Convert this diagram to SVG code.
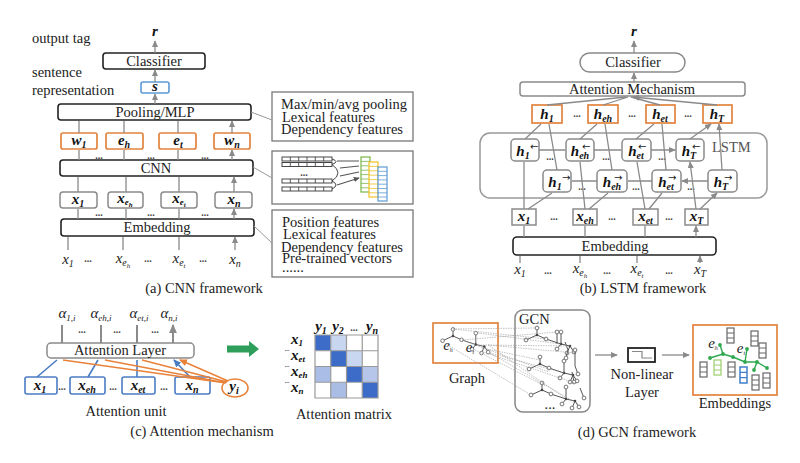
<svg xmlns="http://www.w3.org/2000/svg" width="800" height="463" viewBox="0 0 800 463">
<defs>
<style>
.t{font-family:"Liberation Serif",serif;font-size:14.5px;fill:#222}
.c{text-anchor:middle}
.v{font-family:"Liberation Serif",serif;font-style:italic;font-weight:bold;font-size:15px;text-anchor:middle;fill:#111}
.m{font-family:"Liberation Serif",serif;font-style:italic;font-size:15px;text-anchor:middle;fill:#222}
.d{font-family:"Liberation Serif",serif;font-size:10px;font-weight:bold;text-anchor:middle;fill:#444}
.box{fill:#fff;stroke:#222;stroke-width:1.6}
.gbox{fill:#fff;stroke:#8a8a8a;stroke-width:1.5}
.obox{fill:#fff;stroke:#e2843f;stroke-width:1.7}
.bbox{fill:#fff;stroke:#4a7cc4;stroke-width:1.6}
.fbox{fill:#fff;stroke:#777;stroke-width:1.3}
.arr{stroke:#8a8a8a;stroke-width:1.3;fill:none;marker-end:url(#ah)}
.arrw{stroke:#8a8a8a;stroke-width:2;fill:none;marker-end:url(#ahw)}
.barr{stroke:#4a7cc4;stroke-width:1.6;fill:none;marker-end:url(#ahb)}
.oarr{stroke:#e8823a;stroke-width:1.4;fill:none;marker-end:url(#aho)}
.lnk{stroke:#999;stroke-width:1;fill:none}
.cell{fill:#fff;stroke:#333;stroke-width:0.9}
.gn{fill:#fff;stroke:#666;stroke-width:0.9}
.ge{stroke:#555;stroke-width:1;fill:none}
.dl{stroke:#999;stroke-width:0.6;stroke-dasharray:1.5 1;fill:none}
.stk{fill:#fff;stroke:#666;stroke-width:1.2}
</style>
<marker id="ah" viewBox="0 0 8 8" refX="7" refY="4" markerWidth="7" markerHeight="7" markerUnits="userSpaceOnUse" orient="auto"><path d="M0,0.5 L8,4 L0,7.5 z" fill="#8a8a8a"/></marker>
<marker id="ahw" viewBox="0 0 8 8" refX="7" refY="4" markerWidth="9" markerHeight="9" markerUnits="userSpaceOnUse" orient="auto"><path d="M0,0.5 L8,4 L0,7.5 z" fill="#8a8a8a"/></marker>
<marker id="ahb" viewBox="0 0 8 8" refX="7" refY="4" markerWidth="8" markerHeight="8" markerUnits="userSpaceOnUse" orient="auto"><path d="M0,0.5 L8,4 L0,7.5 z" fill="#4a7cc4"/></marker>
<marker id="aho" viewBox="0 0 8 8" refX="7" refY="4" markerWidth="8" markerHeight="8" markerUnits="userSpaceOnUse" orient="auto"><path d="M0,0.5 L8,4 L0,7.5 z" fill="#e8823a"/></marker>
<marker id="ahk" viewBox="0 0 8 8" refX="7" refY="4" markerWidth="6" markerHeight="6" markerUnits="userSpaceOnUse" orient="auto"><path d="M0,0.5 L8,4 L0,7.5 z" fill="#555"/></marker>
<g id="row6"><rect class="cell" x="0" y="0" width="50" height="4"/><path d="M8.3,0V4M16.7,0V4M25,0V4M33.3,0V4M41.7,0V4" stroke="#333" stroke-width="0.8"/></g>
<g id="stack"><rect class="stk" x="0" y="0" width="7" height="15"/><path d="M0,5H7M0,10H7" stroke="#666" stroke-width="1"/></g>
<g id="tree">
<path class="ge" d="M-11,5 L0,0 L9,4 L24,9 M0,0 V-7 M24,9 V-3 M24,9 L33,11 L37,17 M33,11 L30,18 M24,9 L20,14"/>
<circle class="gn" cx="-11" cy="5" r="1.9"/><circle class="gn" cx="0" cy="-7" r="1.9"/><circle class="gn" cx="9" cy="4" r="1.9"/>
<circle class="gn" cx="24" cy="-3" r="1.9"/><circle class="gn" cx="37" cy="17" r="1.9"/><circle class="gn" cx="30" cy="18" r="1.9"/><circle class="gn" cx="20" cy="14" r="1.9"/>
<circle cx="0" cy="0" r="1.3" fill="#444"/><circle cx="24" cy="9" r="1.3" fill="#444"/><circle cx="33" cy="11" r="1.3" fill="#444"/>
</g>
</defs>
<rect width="800" height="463" fill="#fff"/>

<!-- ================= (a) CNN framework ================= -->
<g id="cnn-labels">
<text class="v" x="155" y="36">r</text>
<text class="t" x="32" y="43">output tag</text>
<text class="t" x="32" y="77">sentence</text>
<text class="t" x="32" y="95">representation</text>
<text class="t c" x="204" y="293">(a) CNN framework</text>
</g>
<g id="a-classifier"><rect class="box" x="103" y="53" width="102" height="16" rx="3"/><text class="t c" x="154" y="66">Classifier</text></g>
<g id="a-s"><rect fill="#fff" stroke="#5b9bd5" stroke-width="1.6" x="141" y="82" width="28" height="11" rx="2"/><text class="v" x="155" y="91" font-size="13">s</text></g>
<g id="a-pool"><rect class="box" x="58" y="104" width="193" height="16" rx="3"/><text class="t c" x="155" y="117">Pooling/MLP</text></g>
<g id="a-w1"><rect class="obox" x="61" y="133" width="36" height="16" rx="2"/><text class="v" x="79" y="145">w<tspan font-size="10" dy="3">1</tspan></text></g>
<g id="a-eh"><rect class="obox" x="106" y="133" width="37" height="16" rx="2"/><text class="v" x="124" y="145">e<tspan font-size="10" dy="3">h</tspan></text></g>
<g id="a-et"><rect class="obox" x="159" y="133" width="37" height="16" rx="2"/><text class="v" x="178" y="145">e<tspan font-size="10" dy="3">t</tspan></text></g>
<g id="a-wn"><rect class="obox" x="214" y="133" width="36" height="16" rx="2"/><text class="v" x="232" y="145">w<tspan font-size="10" dy="3">n</tspan></text></g>
<g id="a-cnn"><rect class="box" x="60" y="160" width="193" height="16" rx="3"/><text class="t c" x="156" y="173">CNN</text></g>
<g id="a-x1"><rect class="gbox" x="60" y="192" width="37" height="16" rx="3"/><text class="v" x="78" y="204">x<tspan font-size="10" dy="3">1</tspan></text></g>
<g id="a-xeh"><rect class="gbox" x="108" y="192" width="35" height="16" rx="3"/><text class="v" x="125" y="203">x<tspan font-size="9" dy="2">e</tspan><tspan font-size="7" dy="2">h</tspan></text></g>
<g id="a-xet"><rect class="gbox" x="161" y="192" width="36" height="16" rx="3"/><text class="v" x="179" y="203">x<tspan font-size="9" dy="2">e</tspan><tspan font-size="7" dy="2">t</tspan></text></g>
<g id="a-xn"><rect class="gbox" x="215" y="192" width="37" height="16" rx="3"/><text class="v" x="234" y="204">x<tspan font-size="10" dy="3">n</tspan></text></g>
<g id="a-emb"><rect class="box" x="61" y="219" width="193" height="17" rx="3"/><text class="t c" x="157" y="232">Embedding</text></g>
<g id="a-inputs">
<text class="m" x="68" y="264">x<tspan font-size="10" dy="3">1</tspan></text>
<text class="m" x="123" y="263">x<tspan font-size="10" dy="3">e</tspan><tspan font-size="7" dy="2">h</tspan></text>
<text class="m" x="179" y="263">x<tspan font-size="10" dy="3">e</tspan><tspan font-size="7" dy="2">t</tspan></text>
<text class="m" x="235" y="264">x<tspan font-size="10" dy="3">n</tspan></text>
<text class="d" x="88" y="262">...</text><text class="d" x="148" y="262">...</text><text class="d" x="203" y="262">...</text>
<text class="d" x="99" y="159">...</text><text class="d" x="151" y="159">...</text><text class="d" x="205" y="159">...</text>
<text class="d" x="99" y="216">...</text><text class="d" x="151" y="216">...</text><text class="d" x="205" y="216">...</text>
</g>
<g id="a-feat1"><rect class="fbox" x="272" y="92" width="141" height="49"/>
<text class="t" x="281" y="109">Max/min/avg pooling</text><text class="t" x="282" y="121.5">Lexical features</text><text class="t" x="281" y="134">Dependency features</text></g>
<g id="a-feat2"><rect class="fbox" x="272" y="151" width="141" height="53"/>
<use href="#row6" x="282" y="157"/><use href="#row6" x="282" y="162.5"/><use href="#row6" x="282" y="179"/><use href="#row6" x="282" y="187"/>
<text class="d" x="304" y="176" font-size="9">...</text>
<path d="M332,159 Q340,161.5 332,164.5 M332,164.5 Q344,173 332,181 M332,181 Q340,185 332,189" stroke="#333" stroke-width="0.9" fill="none"/>
<path d="M337,161 L359,161 M340,168 L359,166 M340,176 L359,172 M337,185 L359,178" stroke="#555" stroke-width="1.2" fill="none" marker-end="url(#ahk)"/>
<rect x="361" y="157" width="9" height="35" fill="#fff" stroke="#7ab648" stroke-width="1.2"/>
<path d="M361,161.4H370M361,165.8H370M361,170.2H370M361,174.6H370M361,179H370M361,183.4H370M361,187.8H370" stroke="#7ab648" stroke-width="0.8"/>
<rect x="369" y="162" width="9" height="35" fill="#fff" stroke="#f0c020" stroke-width="1.2"/>
<path d="M369,166.4H378M369,170.8H378M369,175.2H378M369,179.6H378M369,184H378M369,188.4H378M369,192.8H378" stroke="#f0c020" stroke-width="0.8"/>
<rect x="378" y="167" width="9" height="34" fill="#fff" stroke="#5b9bd5" stroke-width="1.2"/>
<path d="M378,171.3H387M378,175.6H387M378,179.9H387M378,184.2H387M378,188.5H387M378,192.8H387M378,197H387" stroke="#5b9bd5" stroke-width="0.8"/>
</g>
<g id="a-feat3"><rect class="fbox" x="272" y="210" width="141" height="67"/>
<text class="t" x="282" y="227">Position features</text><text class="t" x="283" y="239">Lexical features</text><text class="t" x="281" y="251.5">Dependency features</text><text class="t" x="282" y="263">Pre-trained vectors</text><text class="t" x="282" y="272" font-size="10">......</text></g>

<!-- ================= (b) LSTM framework ================= -->
<g id="b-labels">
<text class="v" x="634" y="36">r</text>
<text class="t c" x="643" y="293">(b) LSTM framework</text>
</g>
<g id="b-lstm"><rect x="480" y="133" width="287" height="65" rx="10" fill="none" stroke="#999" stroke-width="1.5"/><text class="t" x="712" y="152" style="fill:#555">LSTM</text></g>
<g id="b-classifier"><rect class="gbox" x="580" y="53" width="105" height="19" rx="9.5"/><text class="t c" x="633" y="67">Classifier</text></g>
<g id="b-att"><rect class="gbox" x="520" y="82" width="225" height="14" rx="3"/><text class="t c" x="632" y="94">Attention Mechanism</text></g>
<g id="b-h1"><rect class="obox" x="532" y="105" width="30" height="18"/><text class="v" x="547" y="119" font-size="16">h<tspan font-size="10" dy="3">1</tspan></text></g>
<g id="b-heh"><rect class="obox" x="588" y="105" width="30" height="18"/><text class="v" x="603" y="119" font-size="16">h<tspan font-size="10" dy="3">eh</tspan></text></g>
<g id="b-het"><rect class="obox" x="646" y="105" width="29" height="18"/><text class="v" x="660" y="119" font-size="16">h<tspan font-size="10" dy="3">et</tspan></text></g>
<g id="b-hT"><rect class="obox" x="703" y="105" width="29" height="18"/><text class="v" x="717" y="119" font-size="16">h<tspan font-size="10" dy="3">T</tspan></text></g>
<g id="b-hl1"><rect class="gbox" x="511" y="139" width="28" height="22" rx="4"/><text class="v" x="523" y="156" font-size="16">h<tspan font-size="10" dy="3">1</tspan></text><text x="530" y="150" font-family="DejaVu Sans,sans-serif" font-size="10" fill="#222">←</text></g>
<g id="b-hleh"><rect class="gbox" x="566" y="139" width="28" height="22" rx="4"/><text class="v" x="580" y="156" font-size="16">h<tspan font-size="10" dy="3">eh</tspan></text><text x="582" y="150" font-family="DejaVu Sans,sans-serif" font-size="10" fill="#222">←</text></g>
<g id="b-hlet"><rect class="gbox" x="622" y="139" width="29" height="22" rx="4"/><text class="v" x="636" y="156" font-size="16">h<tspan font-size="10" dy="3">et</tspan></text><text x="638" y="150" font-family="DejaVu Sans,sans-serif" font-size="10" fill="#222">←</text></g>
<g id="b-hlT"><rect class="gbox" x="676" y="139" width="28" height="22" rx="4"/><text class="v" x="689" y="156" font-size="16">h<tspan font-size="10" dy="3">T</tspan></text><text x="692" y="150" font-family="DejaVu Sans,sans-serif" font-size="10" fill="#222">←</text></g>
<g id="b-hr1"><rect class="gbox" x="543" y="170" width="28" height="22" rx="4"/><text class="v" x="555" y="187" font-size="16">h<tspan font-size="10" dy="3">1</tspan></text><text x="562" y="181" font-family="DejaVu Sans,sans-serif" font-size="10" fill="#222">→</text></g>
<g id="b-hreh"><rect class="gbox" x="597" y="170" width="30" height="22" rx="4"/><text class="v" x="612" y="187" font-size="16">h<tspan font-size="10" dy="3">eh</tspan></text><text x="614" y="181" font-family="DejaVu Sans,sans-serif" font-size="10" fill="#222">→</text></g>
<g id="b-hret"><rect class="gbox" x="652" y="170" width="29" height="22" rx="4"/><text class="v" x="666" y="187" font-size="16">h<tspan font-size="10" dy="3">et</tspan></text><text x="668" y="181" font-family="DejaVu Sans,sans-serif" font-size="10" fill="#222">→</text></g>
<g id="b-hrT"><rect class="gbox" x="708" y="170" width="29" height="22" rx="4"/><text class="v" x="721" y="187" font-size="16">h<tspan font-size="10" dy="3">T</tspan></text><text x="724" y="181" font-family="DejaVu Sans,sans-serif" font-size="10" fill="#222">→</text></g>
<g id="b-x1"><rect class="gbox" x="512" y="209" width="24" height="16"/><text class="v" x="524" y="221">x<tspan font-size="10" dy="3">1</tspan></text></g>
<g id="b-xeh"><rect class="gbox" x="573" y="209" width="24" height="16"/><text class="v" x="585" y="221">x<tspan font-size="10" dy="3">eh</tspan></text></g>
<g id="b-xet"><rect class="gbox" x="633" y="209" width="25" height="16"/><text class="v" x="645.5" y="221">x<tspan font-size="10" dy="3">et</tspan></text></g>
<g id="b-xT"><rect class="gbox" x="685" y="209" width="23" height="16"/><text class="v" x="696.5" y="221">x<tspan font-size="10" dy="3">T</tspan></text></g>
<g id="b-emb"><rect class="box" x="513" y="237" width="203" height="18" rx="4"/><text class="t c" x="615" y="251">Embedding</text></g>
<g id="b-inputs">
<text class="m" x="520" y="274">x<tspan font-size="10" dy="3">1</tspan></text>
<text class="m" x="580" y="273">x<tspan font-size="10" dy="3">e</tspan><tspan font-size="7" dy="2">h</tspan></text>
<text class="m" x="637" y="273">x<tspan font-size="10" dy="3">e</tspan><tspan font-size="7" dy="2">t</tspan></text>
<text class="m" x="700" y="274">x<tspan font-size="10" dy="3">T</tspan></text>
<text class="d" x="548" y="274">...</text><text class="d" x="607" y="274">...</text><text class="d" x="669" y="274">...</text>
<text class="d" x="554" y="220">...</text><text class="d" x="612" y="220">...</text><text class="d" x="669" y="220">...</text>
<text class="d" x="577" y="117">...</text><text class="d" x="632" y="117">...</text><text class="d" x="688" y="117">...</text>
<text class="d" x="550" y="160">...</text><text class="d" x="606" y="160">...</text><text class="d" x="662" y="160">...</text>
<text class="d" x="582" y="190">...</text><text class="d" x="636" y="190">...</text><text class="d" x="691" y="190">...</text>
</g>

<!-- ================= (c) Attention mechanism ================= -->
<g id="c-alpha">
<text class="m" x="67" y="318" font-size="14">α<tspan font-size="9" dy="3">1,i</tspan></text>
<text class="m" x="101" y="318" font-size="14">α<tspan font-size="9" dy="3">eh,i</tspan></text>
<text class="m" x="139" y="318" font-size="14">α<tspan font-size="9" dy="3">et,i</tspan></text>
<text class="m" x="169" y="318" font-size="14">α<tspan font-size="9" dy="3">n,i</tspan></text>
<text class="d" x="82" y="333">...</text><text class="d" x="117" y="333">...</text><text class="d" x="155" y="333">...</text>
</g>
<g id="c-att"><rect class="gbox" x="47" y="343" width="147" height="15" rx="4"/><text class="t c" x="120" y="355">Attention Layer</text></g>
<g id="c-x1"><rect class="bbox" x="25" y="377" width="32" height="17" rx="2"/><text class="v" x="40" y="390">x<tspan font-size="10" dy="3">1</tspan></text></g>
<g id="c-xeh"><rect class="bbox" x="70" y="377" width="35" height="17" rx="2"/><text class="v" x="87" y="390">x<tspan font-size="10" dy="3">eh</tspan></text></g>
<g id="c-xet"><rect class="bbox" x="122" y="377" width="33" height="17" rx="2"/><text class="v" x="138" y="390">x<tspan font-size="10" dy="3">et</tspan></text></g>
<g id="c-xn"><rect class="bbox" x="175" y="377" width="35" height="17" rx="2"/><text class="v" x="192" y="390">x<tspan font-size="10" dy="3">n</tspan></text></g>
<g id="c-yi"><ellipse cx="235" cy="388" rx="13" ry="9" fill="#fff" stroke="#e8823a" stroke-width="1.6"/><text class="v" x="234" y="391">y<tspan font-size="10" dy="3">i</tspan></text></g>
<g id="c-dots"><text class="d" x="62" y="390">...</text><text class="d" x="113" y="390">...</text><text class="d" x="164" y="390">...</text></g>
<g id="c-labels"><text class="t c" x="126" y="416">Attention unit</text><text class="t c" x="202" y="436">(c) Attention mechanism</text></g>
<g id="c-green"><path d="M227,345.5 H249 V341 L259,349 L249,357 V352.5 H227 Z" fill="#2e9e5b"/></g>
<g id="c-matrix">
<rect x="315" y="335" width="15.75" height="15.75" fill="#3d6cc8"/><rect x="330.75" y="335" width="15.75" height="15.75" fill="#c9d6f0"/><rect x="346.5" y="335" width="15.75" height="15.75" fill="#fff"/><rect x="362.25" y="335" width="15.75" height="15.75" fill="#fff"/>
<rect x="315" y="350.75" width="15.75" height="15.75" fill="#fff"/><rect x="330.75" y="350.75" width="15.75" height="15.75" fill="#3d6cc8"/><rect x="346.5" y="350.75" width="15.75" height="15.75" fill="#cad7f0"/><rect x="362.25" y="350.75" width="15.75" height="15.75" fill="#fff"/>
<rect x="315" y="366.5" width="15.75" height="15.75" fill="#a9bde6"/><rect x="330.75" y="366.5" width="15.75" height="15.75" fill="#fff"/><rect x="346.5" y="366.5" width="15.75" height="15.75" fill="#3d6cc8"/><rect x="362.25" y="366.5" width="15.75" height="15.75" fill="#b5c6ea"/>
<rect x="315" y="382.25" width="15.75" height="15.75" fill="#fff"/><rect x="330.75" y="382.25" width="15.75" height="15.75" fill="#aabde5"/><rect x="346.5" y="382.25" width="15.75" height="15.75" fill="#fff"/><rect x="362.25" y="382.25" width="15.75" height="15.75" fill="#3d6cc8"/>
<path d="M315,335H378V398H315Z M330.75,335V398 M346.5,335V398 M362.25,335V398 M315,350.75H378 M315,366.5H378 M315,382.25H378" fill="none" stroke="#999" stroke-width="1.2"/>
<text class="v" x="321" y="331">y<tspan font-size="10" dy="3">1</tspan></text>
<text class="v" x="338" y="331">y<tspan font-size="10" dy="3">2</tspan></text>
<text class="d" x="354" y="331">...</text>
<text class="v" x="372" y="331">y<tspan font-size="10" dy="3">n</tspan></text>
<text class="v" font-size="13" style="text-anchor:start"><tspan x="291" y="344">x</tspan><tspan font-size="9" dy="2">1</tspan><tspan x="285" y="351" font-size="6">...</tspan><tspan x="291" y="360">x</tspan><tspan font-size="9" dy="2">et</tspan><tspan x="285" y="367" font-size="6">...</tspan><tspan x="291" y="376">x</tspan><tspan font-size="9" dy="2">eh</tspan><tspan x="285" y="383" font-size="6">...</tspan><tspan x="291" y="392">x</tspan><tspan font-size="9" dy="2">n</tspan></text>
<text class="t c" x="344" y="419">Attention matrix</text>
</g>

<!-- ================= (d) GCN framework ================= -->
<g id="d-graph">
<rect x="433" y="323" width="65" height="40" fill="#fff" stroke="#e2843f" stroke-width="1.7"/>
<use href="#tree" transform="translate(453 336) scale(0.95)"/>
<text class="m" x="448" y="350" font-size="9">e<tspan font-size="6" dy="2">h</tspan></text>
<text class="m" x="470" y="352" font-size="9">e<tspan font-size="6" dy="2">t</tspan></text>
<text class="t c" x="467" y="383" font-size="15">Graph</text>
</g>
<g id="d-gcn">
<rect x="515" y="310" width="75" height="102" rx="8" fill="#fff" stroke="#888" stroke-width="1.5"/>
<text class="t" x="519" y="324">GCN</text>
<use href="#tree" x="537" y="335"/>
<use href="#tree" x="540" y="364"/>
<use href="#tree" x="542" y="390"/>
<path class="ge" d="M557,332 V344 M565,342 L568,350 L566,358 M575,350 V366 L578,374 M572,372 L574,382 M580,388 L584,398"/>
<circle class="gn" cx="557" cy="332" r="1.9"/><circle class="gn" cx="566" cy="358" r="1.9"/><circle class="gn" cx="575" cy="350" r="1.9"/><circle class="gn" cx="578" cy="374" r="1.9"/><circle class="gn" cx="574" cy="382" r="1.9"/><circle class="gn" cx="584" cy="398" r="1.9"/>
<text class="t c" x="550" y="409" font-size="10">...</text>
</g>
<g id="d-nonlinear">
<rect x="628" y="348" width="27" height="14" fill="#fff" stroke="#222" stroke-width="1.8"/>
<path d="M632,351.5 H642 V358 H652" fill="none" stroke="#888" stroke-width="1.2"/>
<text class="t c" x="642" y="379">Non-linear</text><text class="t c" x="642" y="397">Layer</text>
</g>
<g id="d-emb">
<rect x="693" y="325" width="84" height="70" fill="#fff" stroke="#e2843f" stroke-width="1.7"/>
<use href="#stack" x="727" y="328"/><use href="#stack" x="751" y="331"/><use href="#stack" x="759" y="343"/>
<use href="#stack" x="700" y="362"/><use href="#stack" x="728" y="362"/><use href="#stack" x="752" y="375"/><use href="#stack" x="763" y="373"/>
<rect x="714" y="360" width="7" height="15" fill="#fff" stroke="#9acd6a" stroke-width="1.2"/><path d="M714,365H721M714,370H721" stroke="#9acd6a" stroke-width="1"/>
<rect x="740" y="367" width="7" height="16" fill="#fff" stroke="#3f7fc8" stroke-width="1.5"/><path d="M740,372.3H747M740,377.6H747" stroke="#3f7fc8" stroke-width="1.2"/>
<path d="M710,358 L723,354 L733,357 L745,362 L757,362 L767,368 M723,354 L720,345 M745,362 L747,349 M757,362 L754,370" fill="none" stroke="#2fa84f" stroke-width="1.4"/>
<g fill="#2fa84f"><circle cx="710" cy="358" r="1.9"/><circle cx="723" cy="354" r="1.9"/><circle cx="733" cy="357" r="1.9"/><circle cx="745" cy="362" r="1.9"/><circle cx="757" cy="362" r="1.9"/><circle cx="767" cy="368" r="1.9"/><circle cx="720" cy="345" r="1.9"/><circle cx="747" cy="349" r="1.9"/><circle cx="754" cy="370" r="1.9"/></g>
<text class="m" x="713" y="348" font-size="9">e<tspan font-size="6" dy="2">h</tspan></text>
<text class="m" x="741" y="353" font-size="9">e<tspan font-size="6" dy="2">t</tspan></text>
<text class="t c" x="735" y="408">Embeddings</text>
</g>
<g id="d-caption"><text class="t c" x="637" y="437">(d) GCN framework</text></g>

<!-- ================= connectors ================= -->
<g id="connectors">
<path class="arr" d="M155,53 V41"/>
<path class="arr" d="M155,82 V70"/>
<path class="arr" d="M155,104 V94"/>
<path class="arr" d="M79,133 V121 M124,133 V121 M178,133 V121 M232,133 V121"/>
<path class="arr" d="M79,160 V150 M124,160 V150 M178,160 V150 M232,160 V150"/>
<path class="arr" d="M78,192 V177 M126,192 V177 M179,192 V177 M234,192 V177"/>
<path class="arr" d="M78,219 V209 M126,219 V209 M179,219 V209 M234,219 V209"/>
<path class="arr" d="M68,250 V237 M123,250 V237 M179,250 V237 M235,250 V237"/>
<path class="lnk" d="M251,112 L272,120 M253,167 L272,178 M254,226 L272,243"/>
<path class="arr" d="M634,53 V41"/>
<path class="arr" d="M634,82 V73"/>
<path class="arr" d="M547,105 L626,97 M603,105 L628,97 M660,105 L631,97 M717,105 L633,97"/>
<path class="arr" d="M525,139 L541,124 M580,139 L597,124 M636,139 L654,124 M690,139 L711,124"/>
<path class="arr" d="M557,170 L549,124 M612,170 L605,124 M666,170 L662,124 M722,170 L719,124"/>
<path class="arr" d="M524,209 V162 M585,209 L580,162 M645,209 L637,162 M696,209 L690,162"/>
<path class="arr" d="M528,209 L552,193 M589,209 L608,193 M649,209 L662,193 M700,209 L717,193"/>
<path class="arr" d="M539,150 H565 M594,150 H621 M651,150 H675"/>
<path class="arr" d="M597,181 H572 M652,181 H628 M708,181 H682"/>
<path class="arr" d="M524,237 V226 M585,237 V226 M645,237 V226 M696,237 V226"/>
<path class="arr" d="M520,263 V256 M580,263 V256 M637,263 V256 M700,263 V256"/>
<path class="arrw" d="M62,343 V325 M101,343 V325 M137,343 V325 M173,343 V325"/>
<path class="barr" d="M37,377 L57,360 M88,377 L98,360 M137,377 V360 M190,377 L174,360"/>
<path class="oarr" d="M226,383 L63,360 M226,383 L105,360 M227,382 L142,360 M228,381 L180,360"/>
<path class="dl" d="M453,329 L535,328 M453,329 L546,339 M462,340 L557,332 M478,333 L561,344 M478,345 L570,346 M488,345 L575,353 M482,348 L540,360 M462,340 L549,372 M490,353 L564,373 M483,352 L575,383 M475,350 L545,386 M490,353 L578,404 M441,341 L531,395 M488,345 L565,398"/>
<path class="arr" d="M595,355 H617" stroke-width="1.6"/>
<path class="arr" d="M662,355 H689" stroke-width="1.6"/>
</g>
</svg>
